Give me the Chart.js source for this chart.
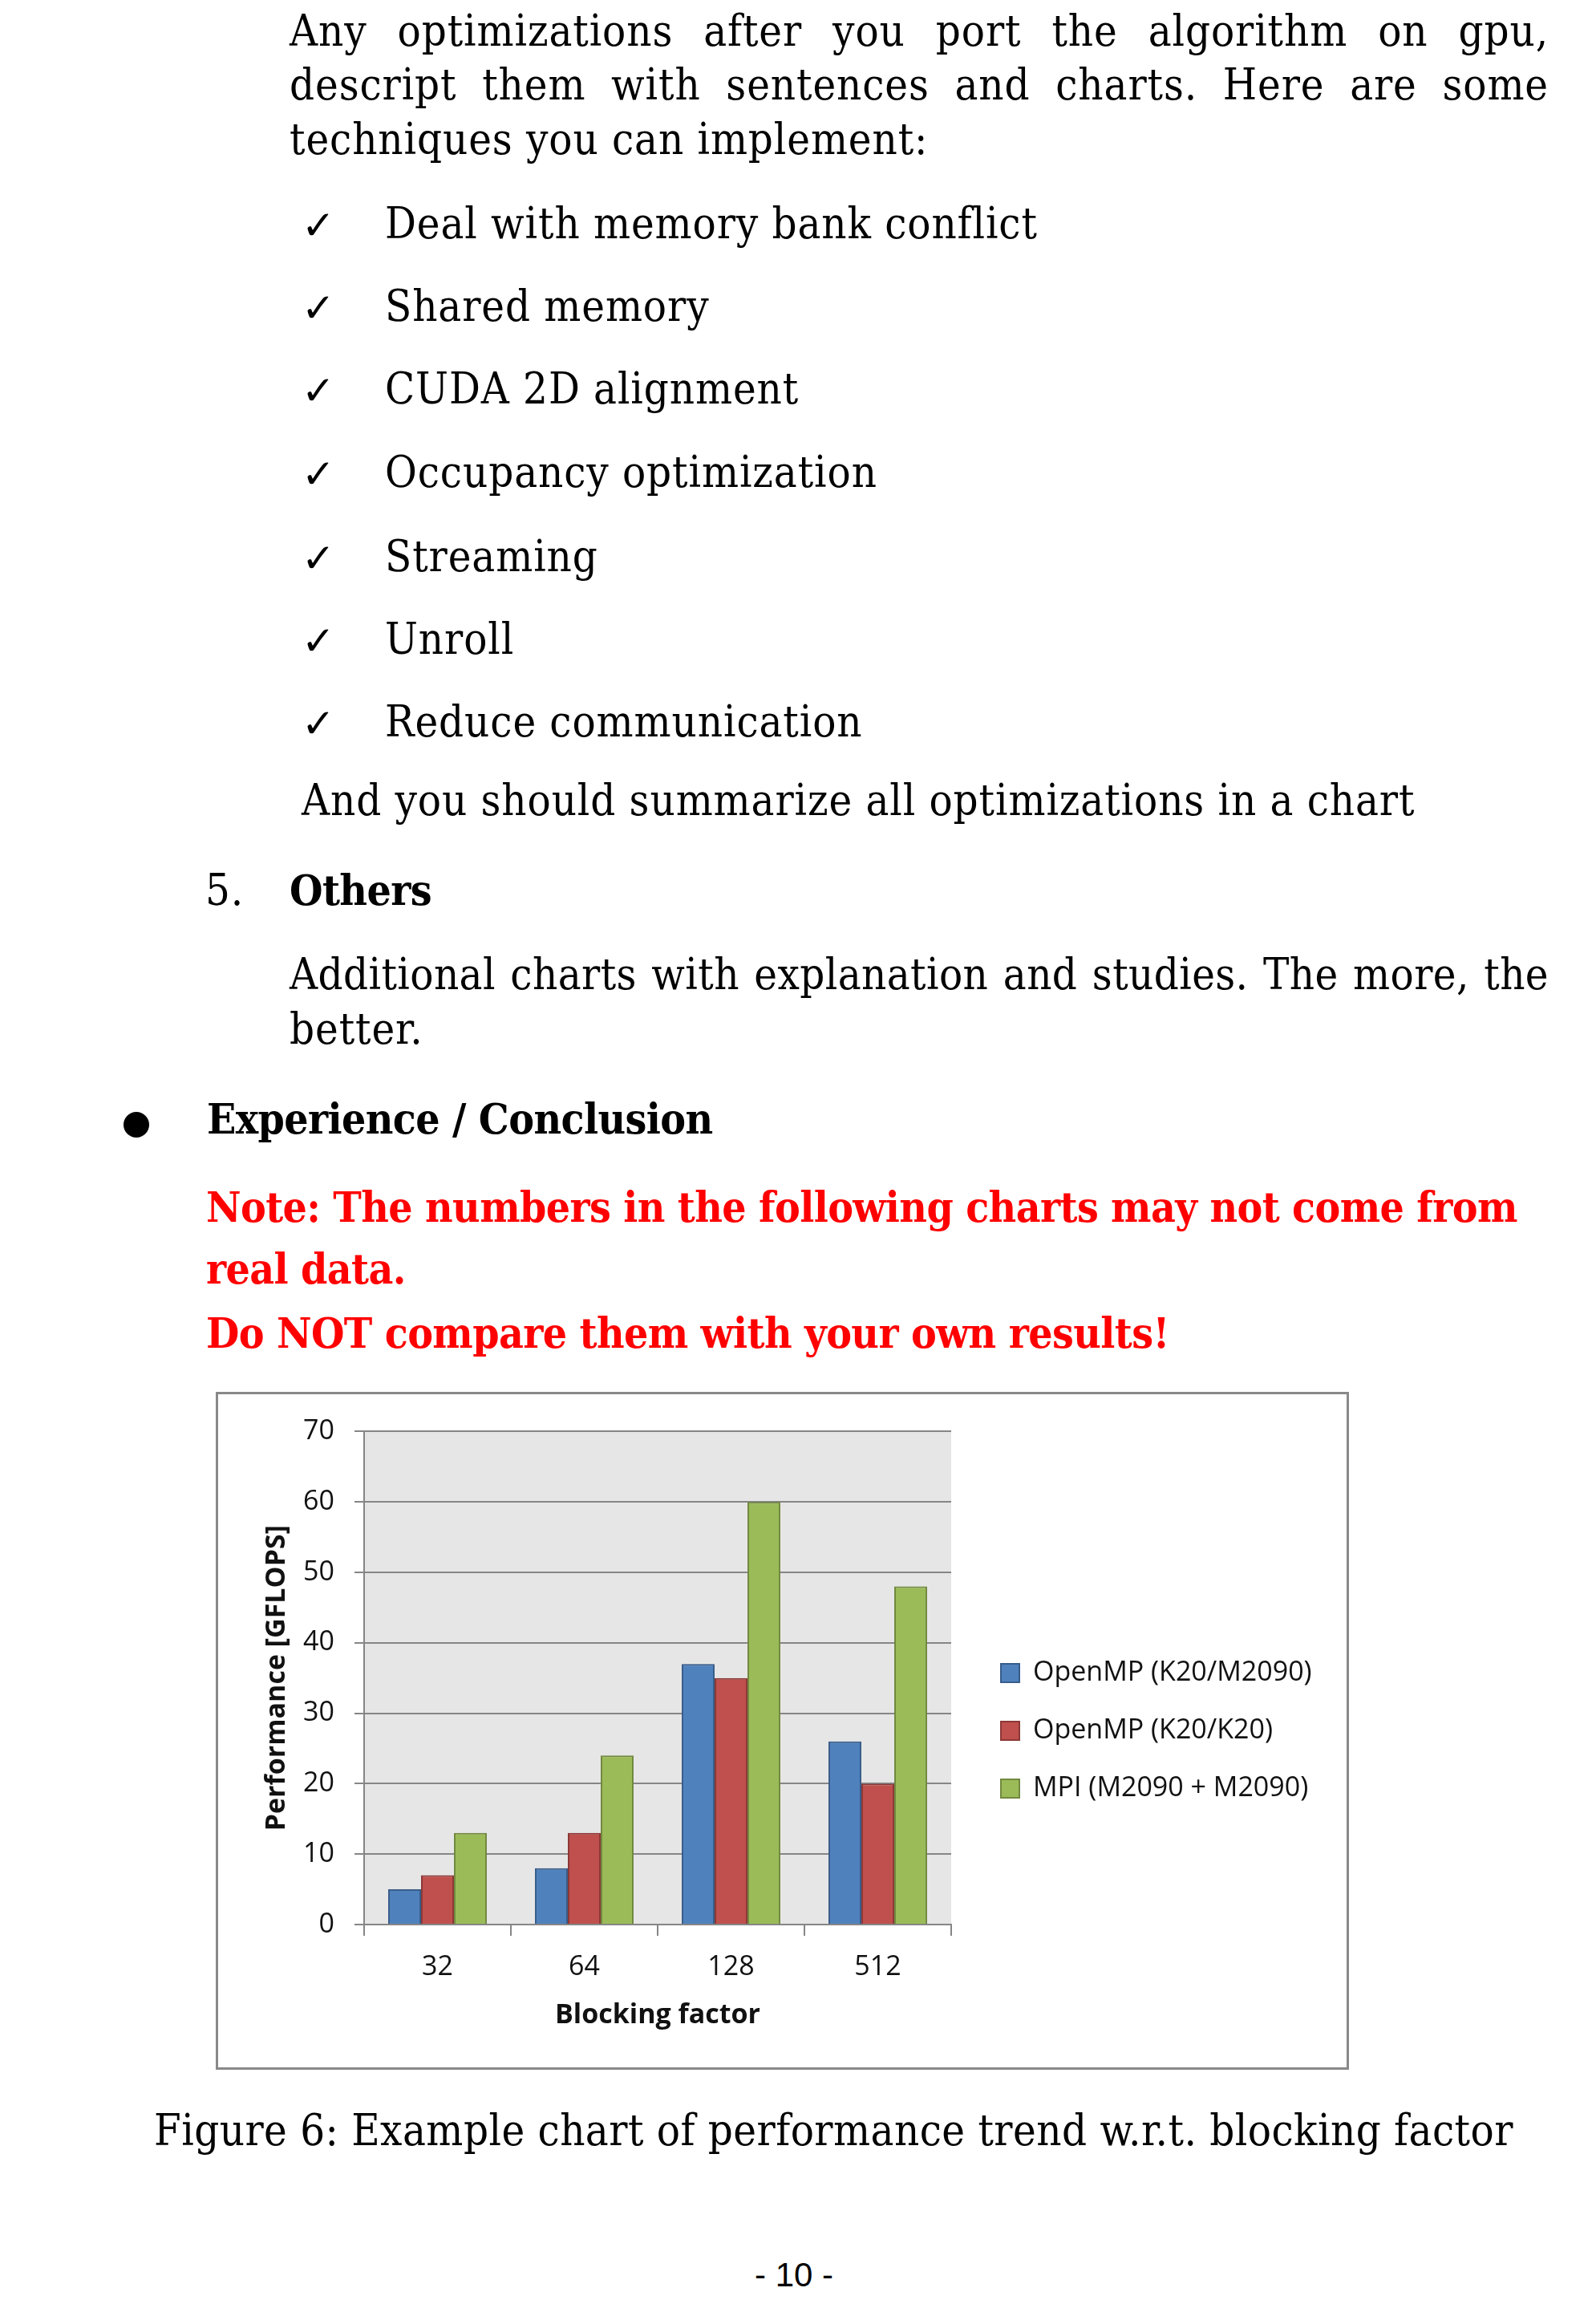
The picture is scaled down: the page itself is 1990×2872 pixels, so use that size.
<!DOCTYPE html>
<html lang="en">
<head>
    <meta charset="UTF-8">
    <title>Figure 6: performance vs blocking factor</title>
    <script src="https://cdn.jsdelivr.net/npm/chart.js"></script>
    <style>
        body { margin: 0; width: 1990px; height: 2872px; background: #fff; position: relative; overflow: hidden; }
        .t {
            position: absolute; white-space: nowrap; line-height: 1;
            font-family: "DejaVu Serif Condensed", "DejaVu Serif", serif;
            font-stretch: condensed; font-size: 54px; letter-spacing: 0.9px; color: #000;
        }
        .j { width: 1570px; text-align: justify; text-align-last: justify; }
        .b { font-weight: bold; font-size: 53px; letter-spacing: -0.6px; }
        .red { color: #ff0000; font-weight: bold; font-size: 53px; letter-spacing: -0.6px; }
        .chk { position: absolute; left: 376px; font-family: "DejaVu Sans", sans-serif; font-size: 50px; line-height: 1; }
        #box { position: absolute; left: 269px; top: 1735px; width: 1413px; height: 845px; border: 3px solid #898989; box-sizing: border-box; }
        #myChart { position: absolute; left: 273px; top: 1739px; }
        #pageNo { position: absolute; left: 890px; width: 200px; text-align: center; top: 2815px; font-family: "Liberation Sans", sans-serif; font-size: 42px; line-height: 1; }
        .dot { position: absolute; left: 154px; top: 1386px; width: 32px; height: 32px; border-radius: 50%; background: #000; }
    </style>
</head>
<body>
    <!-- text lines: top = baseline - 46 -->
    <div class="t j" style="left:361px; top:12px;">Any optimizations after you port the algorithm on gpu,</div>
    <div class="t j" style="left:361px; top:79px;">descript them with sentences and charts. Here are some</div>
    <div class="t" style="left:361px; top:147px;">techniques you can implement:</div>

    <div class="chk" style="top:256px;">✓</div><div class="t" style="left:480px; top:252px;">Deal with memory bank conflict</div>
    <div class="chk" style="top:359px;">✓</div><div class="t" style="left:480px; top:355px;">Shared memory</div>
    <div class="chk" style="top:462px;">✓</div><div class="t" style="left:480px; top:458px;">CUDA 2D alignment</div>
    <div class="chk" style="top:566px;">✓</div><div class="t" style="left:480px; top:562px;">Occupancy optimization</div>
    <div class="chk" style="top:671px;">✓</div><div class="t" style="left:480px; top:667px;">Streaming</div>
    <div class="chk" style="top:774px;">✓</div><div class="t" style="left:480px; top:770px;">Unroll</div>
    <div class="chk" style="top:877px;">✓</div><div class="t" style="left:480px; top:873px;">Reduce communication</div>

    <div class="t" style="left:376px; top:971px;">And you should summarize all optimizations in a chart</div>

    <div class="t" style="left:256px; top:1083px;">5.</div>
    <div class="t b" style="left:361px; top:1083px;">Others</div>

    <div class="t j" style="left:361px; top:1188px; letter-spacing:0.4px;">Additional charts with explanation and studies. The more, the</div>
    <div class="t" style="left:361px; top:1256px;">better.</div>

    <div class="dot"></div>
    <div class="t b" style="left:258px; top:1368px;">Experience / Conclusion</div>

    <div class="t red" style="left:257px; top:1478px;">Note: The numbers in the following charts may not come from</div>
    <div class="t red" style="left:257px; top:1555px;">real data.</div>
    <div class="t red" style="left:257px; top:1635px;">Do NOT compare them with your own results!</div>

    <div id="box"></div>
    <canvas id="myChart" width="1405" height="837"></canvas>

    <div class="t" style="left:192px; top:2629px; letter-spacing:0.45px;">Figure 6: Example chart of performance trend w.r.t. blocking factor</div>
    <div id="pageNo">- 10 -</div>

    <script>
// Данные графика
const blockingFactors = ['32', '64', '128', '512'];
const seriesNames = ['OpenMP (K20/M2090)', 'OpenMP (K20/K20)', 'MPI (M2090 + M2090)'];
const openmpK20M2090 = [5, 8, 37, 26];
const openmpK20K20 = [7, 13, 35, 20];
const mpiM2090M2090 = [13, 24, 60, 48];
const yMin = 0;
const yMax = 70;
const yStep = 10;

const chartFont = 'Open Sans';
const gridColor = '#868686';
const legendLeft = 937; // левый край легенды внутри canvas

// серый фон области построения
const plotBackground = {
    id: 'plotBackground',
    beforeDraw(chart) {
        const {ctx, chartArea} = chart;
        ctx.save();
        ctx.fillStyle = '#e6e6e6';
        ctx.fillRect(chartArea.left, chartArea.top, chartArea.width, chartArea.height);
        ctx.restore();
    }
};

const data = {
    labels: blockingFactors,
    datasets: [
        {
            label: seriesNames[0],
            data: openmpK20M2090,
            backgroundColor: '#4f81bd',
            borderColor: '#385d8a',
            borderWidth: 2
        },
        {
            label: seriesNames[1],
            data: openmpK20K20,
            backgroundColor: '#c0504d',
            borderColor: '#8c3836',
            borderWidth: 2
        },
        {
            label: seriesNames[2],
            data: mpiM2090M2090,
            backgroundColor: '#9bbb59',
            borderColor: '#71893f',
            borderWidth: 2
        }
    ]
};

const config = {
    type: 'bar',
    data: data,
    plugins: [plotBackground],
    options: {
        responsive: false,
        animation: false,
        devicePixelRatio: 1,
        categoryPercentage: 0.672,
        barPercentage: 1.0,
        layout: {
            padding: { top: 40, bottom: 40, left: 0, right: 0 }
        },
        plugins: {
            tooltip: { enabled: false },
            legend: {
                position: 'right',
                align: 'center',
                maxWidth: 600,
                labels: {
                    boxWidth: 23,
                    boxHeight: 23,
                    padding: 38,
                    color: '#111',
                    font: { family: chartFont, size: 34 }
                }
            }
        },
        scales: {
            x: {
                grid: { drawOnChartArea: false, drawTicks: true, tickLength: 14, color: gridColor, lineWidth: 2 },
                border: { color: gridColor, width: 2 },
                ticks: { color: '#111', padding: 19, font: { family: chartFont, size: 34 } },
                title: {
                    display: true,
                    text: 'Blocking factor',
                    color: '#111',
                    font: { family: chartFont, size: 34, weight: 'bold' },
                    padding: { top: 0, bottom: 3 }
                },
                afterFit(scale) { scale.height = 137; }
            },
            y: {
                min: yMin,
                max: yMax,
                ticks: { stepSize: yStep, color: '#111', padding: 25, font: { family: chartFont, size: 34 } },
                grid: { color: gridColor, lineWidth: 2, tickLength: 12 },
                border: { color: gridColor, width: 2 },
                title: {
                    display: true,
                    text: 'Performance [GFLOPS]',
                    color: '#111',
                    font: { family: chartFont, size: 34, weight: 'bold' },
                    padding: { top: 52, bottom: 0 }
                },
                afterFit(scale) { scale.width = 181; }
            },
            // пустая ось справа — отступ между графиком и легендой
            gap: {
                position: 'right',
                grid: { display: false },
                ticks: { display: false },
                border: { display: false },
                afterFit(scale) { scale.width = 24; }
            }
        }
    }
};

const ctx = document.getElementById('myChart').getContext('2d');
const myChart = new Chart(ctx, config);

// подгоняем правый отступ, чтобы легенда встала на место
const shift = myChart.legend.left - legendLeft;
if (Math.abs(shift) > 0.5) {
    myChart.options.layout.padding.right = Math.max(0, shift);
    myChart.update();
}
    </script>
</body>
</html>
